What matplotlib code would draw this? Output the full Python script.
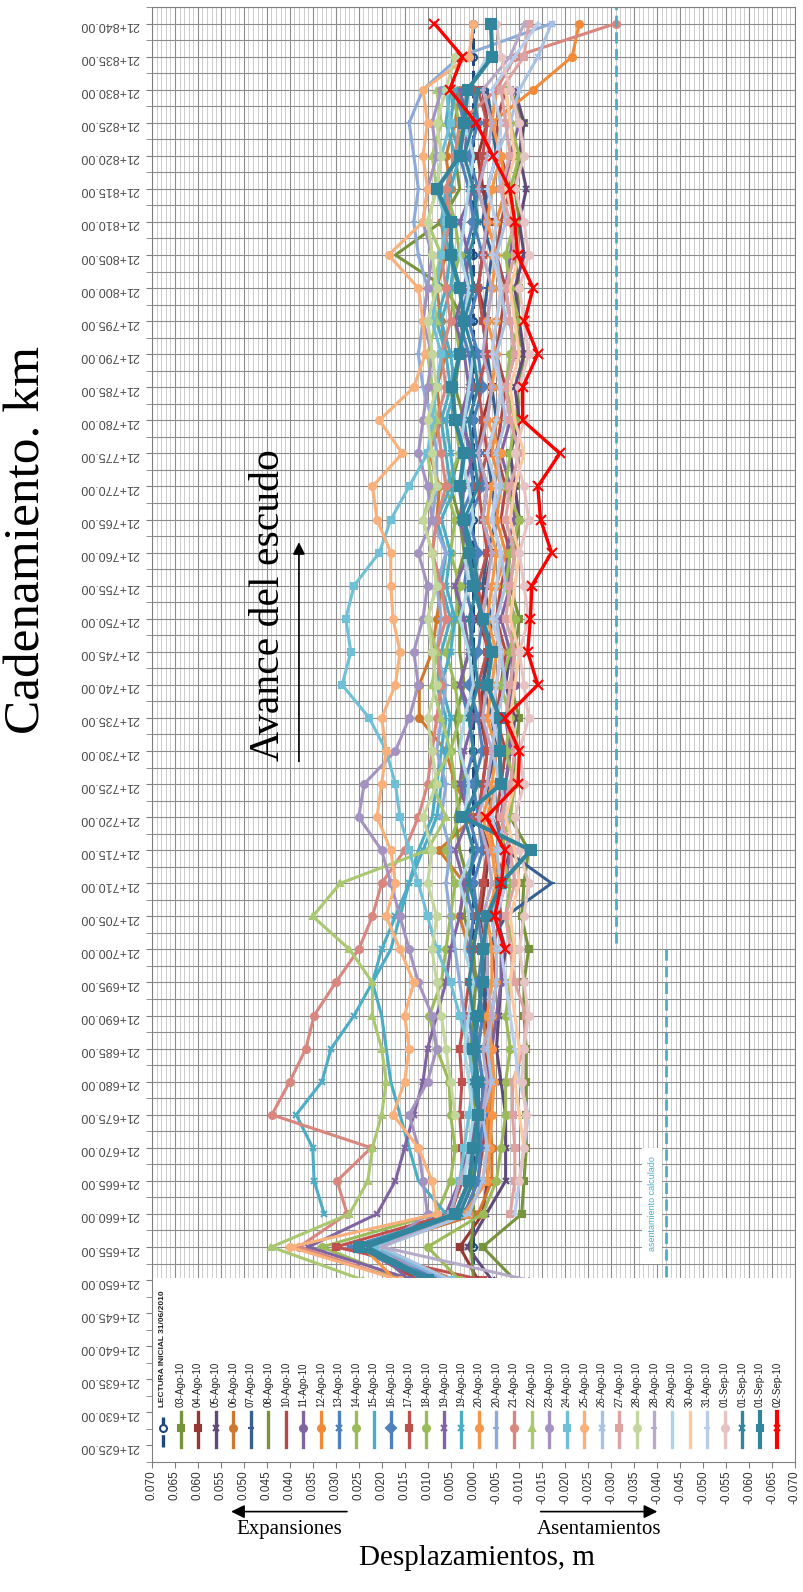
"""
Desplazamientos verticales a lo largo del cadenamiento (lecturas 03-Ago-10 a 02-Sep-10)
Grafico rotado: cadenamiento en el eje vertical, desplazamiento en el horizontal.
"""
import numpy as np
import matplotlib.pyplot as plt
import matplotlib.ticker as mticker
from matplotlib.patches import Rectangle, FancyArrowPatch

nan = np.nan

# cadenamiento 21+xxx (m)
cadenamiento = [650, 655, 660, 665, 670, 675, 680, 685, 690, 695,
                700, 705, 710, 715, 720, 725, 730, 735, 740, 745,
                750, 755, 760, 765, 770, 775, 780, 785, 790, 795,
                800, 805, 810, 815, 820, 825, 830, 835, 840]

fechas = ['LECTURA INICIAL 31/06/2010', '03-Ago-10', '04-Ago-10', '05-Ago-10',
          '06-Ago-10', '07-Ago-10', '08-Ago-10', '10-Ago-10', '11-Ago-10',
          '12-Ago-10', '13-Ago-10', '14-Ago-10', '15-Ago-10', '16-Ago-10',
          '17-Ago-10', '18-Ago-10', '19-Ago-10', '19-Ago-10', '20-Ago-10',
          '20-Ago-10', '21-Ago-10', '22-Ago-10', '23-Ago-10', '24-Ago-10',
          '25-Ago-10', '26-Ago-10', '27-Ago-10', '28-Ago-10', '28-Ago-10',
          '29-Ago-10', '30-Ago-10', '31-Ago-10', '01-Sep-10', '01-Sep-10',
          '01-Sep-10', '02-Sep-10']

# desplazamientos en mm (positivo = expansion, negativo = asentamiento)
d01 = [0, 0, 0, 0, 0, 0, 0, 0, 0, 0,
       0, 0, 0, 0, 0, 0, 0, 0, 0, 0,
       0, 0, 0, 0, 0, 0, 0, 0, 0, 0,
       0, 0, 0, 0, 0, 0, 0, 0, 0]
d02 = [-9, -2, -10.5, -11, -11.5, -11.5, -11.5, -11.5, -11, -11,
       -12, -10.5, -11, -12, -8, -8.5, -9, -10, -8, -9,
       -10, -8, -9, -10, -9, -8, -9.5, -10, -11, -9,
       -10, -9, -10, -9, -10, -11, -8, nan, nan]
d03 = [-1, 3, -2, -3, -3.5, -3, -3, -2.5, -3, -2,
       -3, -1.5, -2.5, -3.5, -1, -2, -3, -1.5, -2, -3.5,
       -1, -2.5, -4, -2, -3, -1, -2, -4, -2.5, -3,
       -1, -2, -3.5, -2, -1, -3, -2, nan, nan]
d04 = [-4, 1.3, -2.8, -7, -7, -7, -6, -5, -5.5, -6,
       -7, -5, -6, -8, -6, -7, -8, -9, -7, -8,
       -9, -7, -8, -10, -9, -8, -10, -9, -11, -10,
       -9, -11, -10, -11.5, -10, -11, -9, nan, nan]
d05 = [4, 22, -1, -4, -4, -3.5, -4, -3, -2, -1,
       1, 3, 2, 7.5, 0, 4, 6, 11.8, 11.8, 9,
       8, 7, 9, 8, 7.4, 9.6, 7, 8, 6, 7,
       8, 6, 7, 5, 6, 4, 3, nan, nan]
d06 = [10, 26, 3, 0, -1, -2, -2, -1, -2, -3,
       -3, -7, -17, -7, -4, -3, -5, -4, -2, -3,
       -4, -2, -3, -5, -4, -3, -5, -4, -3, -2,
       -3, -4, -2, -3, -5, -4, -3, nan, nan]
d07 = [0, 0.5, 0, 0, 0.5, 0, 0, 0.5, 0, -0.5,
       0, 2, 1, 3, 4, 2, 3, 4, 2, 3,
       3, 4, 2, 3, 5, 3, 2, 4, 3, 2,
       6, 17, 7, 3, 4, 2, 3, nan, nan]
d08 = [12, 25, 2, -1, -2, -3, -3, -4, -4, -5,
       -4, -6, -5, -7, -5, -6, -7, -5, -6, -7,
       -5, -6, -8, -6, -7, -5, -6, -7, -5, -6,
       -7, -5, -6, -8, -6, -5, -7, nan, nan]
d09 = [14, 22, 6, 3, 1, -1, -3, -4, -5, -6,
       -6, -5, -7, -8, -6, -7, -8, -7, -9, -8,
       -6, -8, -7, -9, -8, -6, -8, -7, -9, -8,
       -7, -8, -9, -7, -8, -10, -8, nan, nan]
d10 = [8, 24, 1, -2, -3, -3, -4, -3.5, -4, -5,
       -5, -4, -6, -4.5, -3, -5, -6, -4, -5, -6,
       -4, -5, -7, -5, -6, -4, -5, -6, -4, -5,
       -6, -4, -5, -7, -6, -4, -13, -21.5, -23]
d11 = [9, 27, 3, 1, 0, -1, -1, 0, 1, 0,
       1, 0, 2, -1, 1, 2, 0, 1, 3, 1,
       0, 2, 1, 3, 0, 1, 2, 0, 1, 3,
       1, 2, 0, 1, 3, 2, 4, nan, nan]
d12 = [15, 33, 8, 5, 4, 5, 5.3, 8, 9.6, 7,
       6, 5, 4, 6, 3, 4, 5, 3, 4, 6,
       4, 3, 5, 4, 6, 3, 4, 5, 3, 4,
       5, 3, 4, 6, 4, 3, 5, nan, nan]
d13 = [6, 25, 6, 12, 14, 16, 18, 19, 20, 22,
       18, 16, 14, 12, 9, 8, 7, 6, 8, 7,
       5, 7, 6, 8, 5, 6, 7, 5, 6, 8,
       6, 5, 7, 6, 4, 6, 5, nan, nan]
d14 = [7, 24, 2, -1, -1.5, -2, -2, -1, -2, -1,
       -2, -1, 0, -2, -1, 0, -2, -1, 1, -1,
       -2, 0, -1, 1, -2, -1, 0, -2, -1, 1,
       -1, -2, 0, -1, 1, -1, 0, nan, nan]
d15 = [-2, 30, 5, 2.4, 2.5, 3, 2.5, 3, 2, 1,
       0, -1, -2, -3, -1, -2, -3, -2, -1, -3,
       -2, -1, -3, -2, -1, -3, -2, -1, -3, -2,
       -1, -2, -3, -1, -2, -3, -1, nan, nan]
d16 = [3, 10, -2, -5, -6, -7, -7, -8, -7, -8,
       -9, -7, -8, -6, -8, -9, -7, -8, -6, -8,
       -9, -7, -8, -10, -7, -8, -9, -7, -8, -10,
       -8, -7, -9, -8, -10, -8, -7, nan, nan]
d17 = [13, 36, 21, 17, 15, 13, 11, 10, 8, 6,
       5, 3, 2, 4, 1, 3, 2, 0, 3, 1,
       2, 4, 1, 3, 2, 0, 3, 1, 2, 4,
       2, 1, 3, 0, 2, 1, 3, nan, nan]
d18 = [nan, nan, 32.5, 34.7, 35, 38.6, 33, 31, 26, 22,
       20, 17, 14, 11, 8, 7, 6, 5, 7, 5,
       4, 6, 5, 7, 4, 5, 6, 4, 5, 7,
       5, 4, 6, 5, 3, 5, 4, nan, nan]
d19 = [17, 24, 2, -3, -3.5, -4, -4.5, -4, -3, -4,
       -4, -3, -5, -4, -2, -4, -5, -3, -4, -5,
       -3, -4, -5, -3, -4, -6, -3, -4, -5, -3,
       -4, -5, -3, -4, -6, -4, -5, nan, nan]
d20 = [6, 22, 3, 1, 0, -1, 0, 1, 2, 3,
       4, 5, 6, 5, 7, 6, 8, 7, 6, 8,
       7, 8, 6, 9, 8, 8, 9, 11, 12, 11,
       10, 12, 13, 12, 13, 14, 11, 3, -17]
d21 = [16, 38, 27.5, 29.7, 22.3, 43.9, 40, 36.5, 34.7, 30,
       25, 22, 20, 15, 12, 10, 9, 8, 7, 8,
       6, 7, 9, 8, 6, 7, 8, 6, 7, 5,
       6, 7, 5, 6, 4, 3, -5, -9, -31]
d22 = [24, 44, 27, 23, 22, 20, 19, 20, 22, 22,
       27, 35, 29, 10, 6, 9, 5, 7, 9, 8,
       10, 8, 9, 11, 9, 10, 8, 9, 10, 8,
       9, 7, 10, 8, 9, 7, 8, nan, nan]
d23 = [10, 20, 10, 11, 12, 14, 10, 8, 9, 12,
       14, 16, 18, 20, 25, 23.8, 17, 14, 12, 13,
       11, 10, 12, 9, 10, 12, 11, 10, 9, 11,
       10, 9, 11, 10, 8, 9, 7, nan, nan]
d24 = [5, 21, 5, 3, 2, 1, 0, 1, 3, 5,
       8, 10, 12, 14, 16, 17, 19, 22.7, 28.6, 26.7,
       27.8, 26, 20.5, 18, 14, 10, 9, 8, 7, 9,
       8, 7, 6, 8, 7, 5, 6, nan, nan]
d25 = [16, 40, 8, 9, 12, 17.5, 15, 14, 15, 13,
       16, 19, 17, 18, 21, 20, 19, 20, 17, 16,
       17.5, 18, 18, 21, 22, 15.5, 20.5, 13, 10.5, 11,
       12, 18.5, 11, 10, 11, 10, 11, 1, 0]
d26 = [5, 20, 1, -2, -3, -2, -4, -3, -4, -5,
       -5, -4, -6, -5, -7, -6, -4, -5, -7, -6,
       -5, -7, -6, -4, -6, -5, -7, -6, -5, -7,
       -6, -5, -7, -6, -5, -8, -10, -14, -17]
d27 = [nan, nan, -8, -9, -9, -8.5, -8.5, -11, -11.5, -9,
       -8, -7, -9, -8, -6, -8, -9, -7, -8, -9,
       -7, -8, -9, -7, -8, -10, -8, -7, -9, -8,
       -7, -9, -8, -6, -8, -7, -6, -11, -12]
d28 = [nan, nan, nan, nan, nan, 4, 5, 6, 7, 8,
       9, 8, 10, 9, 11, 8, 9, 10, 8, 9,
       10, 8, 9, 11, 8, 9, 10, 8, 9, 10,
       8, 9, 10, 8, 7, 8, 6, 4, nan]
d29 = [-12, 19.9, 5, 3, 0, -2, -3, -2, -4, -3,
       -3, -2, -4, -3, -1, -3, -4, -2, -3, -4,
       -2, -3, -4, -2, -3, -1, -3, -4, -2, -3,
       -4, -2, -3, -1, -3, -4, -2, -8, -11]
d30 = [nan, nan, nan, 2, 1, 0, 1, 2, 1, 0,
       2, 1, 3, 0, 2, 1, 3, 2, 0, 1,
       3, 1, 2, 0, 1, 3, 2, 1, 0, 2,
       1, 3, 2, 1, 0, 2, 1, -3, nan]
d31 = [nan, nan, nan, -10, -11, -10, -9, -10, -9, -8,
       -9, -8, -10, -9, -7, -9, -10, -8, -9, -10,
       -8, -9, -10, -8, -9, -11, -9, -8, -10, -9,
       -8, -10, -9, -7, -9, -8, -7, nan, nan]
d32 = [nan, nan, -9, -10, -11, -12, -10, -9, -8, -7,
       -6, -5, -7, -6, -4, -5, -6, -4, -5, -6,
       -4, -5, -6, -4, -5, -3, -5, -6, -4, -5,
       -6, -4, -5, -3, -5, -6, -4, -9, -14]
d33 = [nan, nan, nan, -10, -11, -11.5, -10.5, -11, -12, -11,
       -10, -11, -12, -10, -9, -11, -10, -12, -11, -10,
       -12, -11, -10, -12, -11, -9, -11, -10, -12, -11,
       -10, -12, -11, -9, -11, -10, -8, -6, -5]
d34 = [9, 23, 3, 0, -1, -1, 0, -1, 0, 1,
       0, -1, 1, 0, 2, -1, 0, 1, -1, 0,
       1, -1, 0, 2, -1, 0, 1, -1, 0, 2,
       0, 1, -1, 0, 2, 0, -1, nan, nan]
d35 = [10, 25, 4, 1, 0, -1, -1, 0, -1, -2,
       -2, -3, -6, -12.5, 2.4, -6, -5.7, -5.7, -3, -4,
       -2, 0, 1, 2, 3, 2, 4, 4.6, 3, 2,
       3, 5, 4.8, 8, 3, 2, 1.3, -4.1, -3.8]
d36 = [nan, nan, nan, nan, nan, nan, nan, nan, nan, nan,
       -6.8, -4.6, -6.1, -6.8, -2.8, -9.7, -10, -6.8, -14, -11.8,
       -12.4, -12.7, -17, -14.6, -14, -18.8, -10.7, -10.7, -14, -11.1,
       -13, -9.6, -9, -7.9, -4.2, -0.6, 5.2, 2.4, 8.5]

series = [d01, d02, d03, d04, d05, d06, d07, d08, d09, d10, d11, d12,
          d13, d14, d15, d16, d17, d18, d19, d20, d21, d22, d23, d24,
          d25, d26, d27, d28, d29, d30, d31, d32, d33, d34, d35, d36]

# lineas de referencia (asentamiento calculado), m
asent_calc_1 = -0.031
asent_calc_2 = -0.042

# estilos (paleta tipo Excel 2007)
colores = ['#1f497d', '#77933c', '#953735', '#604a7b', '#d0782e', '#376092',
           '#77933c', '#b04a47', '#8064a2', '#f28a38', '#4f81bd', '#9bbb59',
           '#4bacc6', '#4f81bd', '#c0504d', '#9bbb59', '#8064a2', '#4bacc6',
           '#f79646', '#8eaad8', '#d9867f', '#a9c870', '#a493c0', '#6fc0d6',
           '#fab07a', '#a9c1e2', '#dda3a2', '#c3d69b', '#b6aac8', '#a8d6e4',
           '#fcc9a0', '#b9cdea', '#e6c4c3', '#31859c', '#31859c', '#ff0000']
marcadores = ['o', 's', 's', 'x', 'o', '_', None, None, 'o', 'o', 'x', 'o',
              None, 'D', 's', 'o', 'x', 'x', 'o', '+', 'o', '^', 'o', 's',
              'o', 'x', 's', 'o', '+', None, None, '+', 'o', 'x', 's', 'x']

fig = plt.figure(figsize=(8.04, 15.92), dpi=100)
ax = fig.add_axes([0.189, 0.0817, 0.7998, 0.9139])

y = np.array(cadenamiento)
for i, d in enumerate(series):
    x = np.array(d, dtype=float) / 1000.0
    lw, ms = 2.2, 5
    ls = '-'
    mfc = colores[i]
    if i == 0:
        ls, mfc = '--', 'none'
    if i == 34:
        lw, ms = 3.0, 7
    if i == 35:
        lw, ms = 2.4, 7
    ax.plot(x, y, ls, color=colores[i], lw=lw, marker=marcadores[i],
            ms=ms, mfc=mfc, mec=colores[i], mew=1.5, zorder=2 + i * 0.01)

# asentamiento calculado
ax.plot([asent_calc_1, asent_calc_1], [701, 842.5], color='#4bacc6', lw=2,
        ls=(0, (4, 2)), zorder=3)
ax.plot([asent_calc_2, asent_calc_2], [700, 650.4], color='#4bacc6', lw=2,
        ls=(0, (4, 2)), zorder=3)
ax.add_patch(Rectangle((-0.0367, 652.5), -0.0043, 17.5, facecolor='white',
                       edgecolor='none', zorder=3))
ax.text(-0.0389, 661.5, 'asentamiento calculado', rotation=90, ha='center',
        va='center', fontsize=6.5, color='#4bacc6', zorder=4,
        family='Liberation Sans')

# ---- ejes ----
ax.set_xlim(0.070, -0.070)
ax.set_ylim(622.5, 842.5)
ax.xaxis.set_major_locator(mticker.MultipleLocator(0.005))
ax.xaxis.set_minor_locator(mticker.MultipleLocator(0.001))
ax.yaxis.set_major_locator(mticker.MultipleLocator(5))
ax.yaxis.set_minor_locator(mticker.MultipleLocator(2.5))
ax.xaxis.set_major_formatter(mticker.FuncFormatter(
    lambda v, p: f'{round(v, 3) + 0.0:.3f}'))
ax.yaxis.set_major_formatter(mticker.FuncFormatter(
    lambda v, p: f'21+{v:.2f}'))

ax.set_axisbelow(True)
ax.grid(which='major', axis='both', color='#8c8c8c', lw=0.8)
ax.grid(which='minor', axis='x', color='#c4c4c4', lw=0.6)
ax.grid(which='minor', axis='y', color='#8c8c8c', lw=0.8)

ax.tick_params(axis='x', which='major', direction='out', length=4,
               color='#808080', labelsize=8.5, labelrotation=90, pad=2,
               labelcolor='#303030')
ax.tick_params(axis='x', which='minor', length=0)
ax.tick_params(axis='y', which='both', direction='out', length=4,
               color='#808080', labelsize=9, labelcolor='#4a4a4a', pad=5)
for lab in ax.get_yticklabels():
    lab.set_rotation(180)
for lab in ax.get_xticklabels() + ax.get_yticklabels():
    lab.set_family('Liberation Sans')
for s in ax.spines.values():
    s.set_color('#808080')
    s.set_zorder(8)

# ---- leyenda (vertical, dentro del area de trazado) ----
ax.add_patch(Rectangle((0.0015, 0.0), 0.9985, 0.1265, transform=ax.transAxes,
                       facecolor='white', edgecolor='none', zorder=5))
x0, dx = 0.0171, 0.0273
for i, fecha in enumerate(fechas):
    xl = x0 + i * dx
    ls = '--' if i == 0 else '-'
    lw = 3.0 if i in (34, 35) else 2.4
    ax.plot([xl, xl], [0.0103, 0.0344], ls, color=colores[i], lw=lw,
            transform=ax.transAxes, zorder=6, clip_on=False)
    if marcadores[i] is not None:
        ax.plot([xl], [0.0234], marker=marcadores[i], ms=5,
                color=colores[i], mec=colores[i],
                mfc='white' if i == 0 else colores[i], mew=1.5,
                transform=ax.transAxes, zorder=6, clip_on=False)
    ax.text(xl, 0.0375, fecha, rotation=90, ha='center', va='bottom',
            fontsize=6 if i == 0 else 7,
            fontweight='bold' if i == 0 else 'normal',
            color='#202020', transform=ax.transAxes, zorder=7,
            family='Liberation Sans')

# ---- textos y flechas ----
ax.annotate('', xy=(0.038, 762), xytext=(0.038, 728),
            arrowprops=dict(arrowstyle='-|>', color='black', lw=1.2,
                            mutation_scale=18), zorder=9)
ax.text(0.0446, 752, 'Avance del escudo', rotation=90, ha='center',
        va='center', fontsize=30, family='Liberation Serif', zorder=9)

fig.text(0.034, 0.661, 'Cadenamiento. km', rotation=90, ha='center',
         va='center', fontsize=37, family='Liberation Serif')
fig.text(0.593, 0.0215, 'Desplazamientos, m', ha='center', va='center',
         fontsize=21, family='Liberation Serif')
fig.text(0.36, 0.039, 'Expansiones', ha='center', va='center',
         fontsize=15, family='Liberation Serif')
fig.text(0.745, 0.039, 'Asentamientos', ha='center', va='center',
         fontsize=15, family='Liberation Serif')
fig.patches.append(FancyArrowPatch(
    (0.435, 0.0505), (0.284, 0.0505), transform=fig.transFigure,
    arrowstyle='-|>', mutation_scale=20, color='black', lw=1.2))
fig.patches.append(FancyArrowPatch(
    (0.669, 0.0505), (0.821, 0.0505), transform=fig.transFigure,
    arrowstyle='-|>', mutation_scale=20, color='black', lw=1.2))

fig.savefig('out.png', dpi=100)
